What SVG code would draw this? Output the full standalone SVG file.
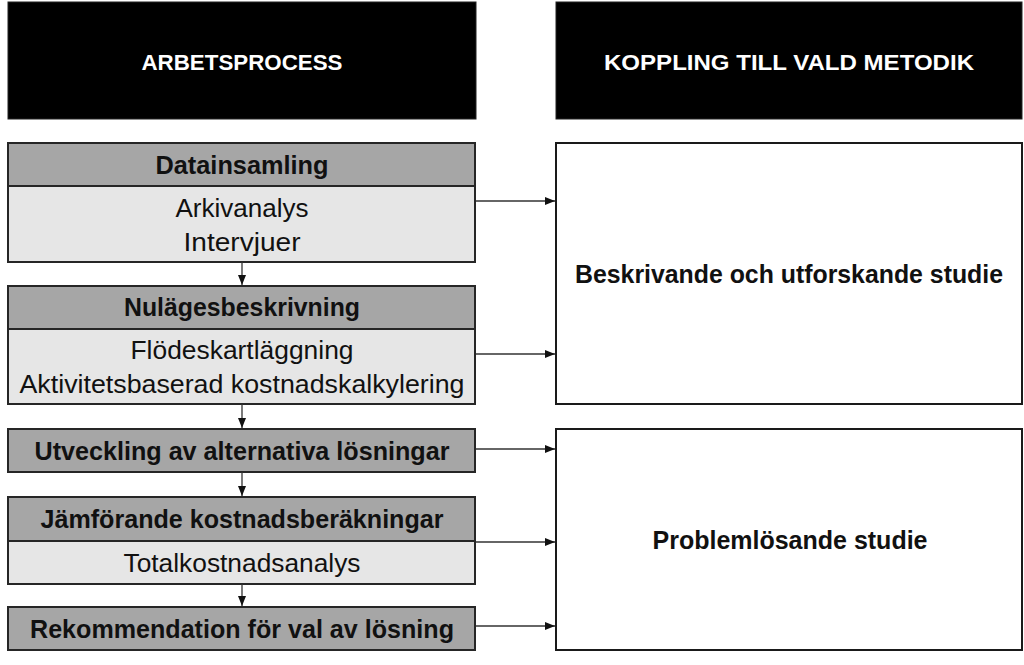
<svg xmlns="http://www.w3.org/2000/svg" width="1024" height="665" viewBox="0 0 1024 665">
<defs>
<style>
.hdr{fill:#000;stroke:#222;stroke-width:1}
.h{fill:#a6a6a6;stroke:#262626;stroke-width:2}
.b{fill:#e6e6e6;stroke:#262626;stroke-width:2}
.w{fill:#fff;stroke:#1a1a1a;stroke-width:2}
text{font-family:"Liberation Sans",Arial,sans-serif;text-anchor:middle;fill:#111}
.t{font-size:22px;font-weight:bold;fill:#fff}
.bt{font-size:25px;font-weight:bold}
.rt{font-size:25px}
.c{stroke:#333;stroke-width:1.3;fill:none;marker-end:url(#ah)}
</style>
<marker id="ah" viewBox="0 0 10 8" refX="10" refY="4" markerWidth="10" markerHeight="8" markerUnits="userSpaceOnUse" orient="auto">
<path d="M0,0 L10,4 L0,8 Z" fill="#111"/>
</marker>
</defs>
<rect width="1024" height="665" fill="#fff"/>

<g id="header-arbetsprocess">
<rect class="hdr" x="8" y="2" width="468" height="117"/>
<text class="t" x="242" y="70" textLength="201" lengthAdjust="spacingAndGlyphs">ARBETSPROCESS</text>
</g>
<g id="header-koppling">
<rect class="hdr" x="556" y="2" width="466" height="117"/>
<text class="t" x="789" y="70" textLength="370" lengthAdjust="spacingAndGlyphs">KOPPLING TILL VALD METODIK</text>
</g>

<g id="datainsamling">
<rect class="h" x="8" y="143" width="467" height="43"/>
<rect class="b" x="8" y="186" width="467" height="76"/>
<text class="bt" x="242" y="174" textLength="173" lengthAdjust="spacingAndGlyphs">Datainsamling</text>
<text class="rt" x="242" y="217" textLength="133" lengthAdjust="spacingAndGlyphs">Arkivanalys</text>
<text class="rt" x="242" y="251" textLength="117" lengthAdjust="spacingAndGlyphs">Intervjuer</text>
</g>

<g id="nulagesbeskrivning">
<rect class="h" x="8" y="286" width="467" height="43"/>
<rect class="b" x="8" y="329" width="467" height="75"/>
<text class="bt" x="242" y="316" textLength="236" lengthAdjust="spacingAndGlyphs">Nulägesbeskrivning</text>
<text class="rt" x="242" y="359" textLength="223" lengthAdjust="spacingAndGlyphs">Flödeskartläggning</text>
<text class="rt" x="242" y="393" textLength="445" lengthAdjust="spacingAndGlyphs">Aktivitetsbaserad kostnadskalkylering</text>
</g>

<g id="utveckling">
<rect class="h" x="8" y="429" width="467" height="43"/>
<text class="bt" x="242" y="460" textLength="415" lengthAdjust="spacingAndGlyphs">Utveckling av alternativa lösningar</text>
</g>

<g id="jamforande">
<rect class="h" x="8" y="497" width="467" height="44"/>
<rect class="b" x="8" y="541" width="467" height="43"/>
<text class="bt" x="242" y="528" textLength="403" lengthAdjust="spacingAndGlyphs">Jämförande kostnadsberäkningar</text>
<text class="rt" x="242" y="572" textLength="237" lengthAdjust="spacingAndGlyphs">Totalkostnadsanalys</text>
</g>

<g id="rekommendation">
<rect class="h" x="8" y="607" width="467" height="43"/>
<text class="bt" x="242" y="638" textLength="424" lengthAdjust="spacingAndGlyphs">Rekommendation för val av lösning</text>
</g>

<g id="beskrivande">
<rect class="w" x="556" y="143" width="466" height="261"/>
<text class="bt" x="789" y="283" textLength="428" lengthAdjust="spacingAndGlyphs">Beskrivande och utforskande studie</text>
</g>

<g id="problemlosande">
<rect class="w" x="556" y="429" width="466" height="221"/>
<text class="bt" x="790" y="549" textLength="275" lengthAdjust="spacingAndGlyphs">Problemlösande studie</text>
</g>

<g id="connectors">
<line class="c" x1="242" y1="262" x2="242" y2="285"/>
<line class="c" x1="242" y1="404" x2="242" y2="428"/>
<line class="c" x1="242" y1="472" x2="242" y2="496"/>
<line class="c" x1="242" y1="584" x2="242" y2="606"/>
<line class="c" x1="476" y1="201" x2="555" y2="201"/>
<line class="c" x1="476" y1="354" x2="555" y2="354"/>
<line class="c" x1="476" y1="449" x2="555" y2="449"/>
<line class="c" x1="476" y1="542" x2="555" y2="542"/>
<line class="c" x1="476" y1="626" x2="555" y2="626"/>
</g>
</svg>
